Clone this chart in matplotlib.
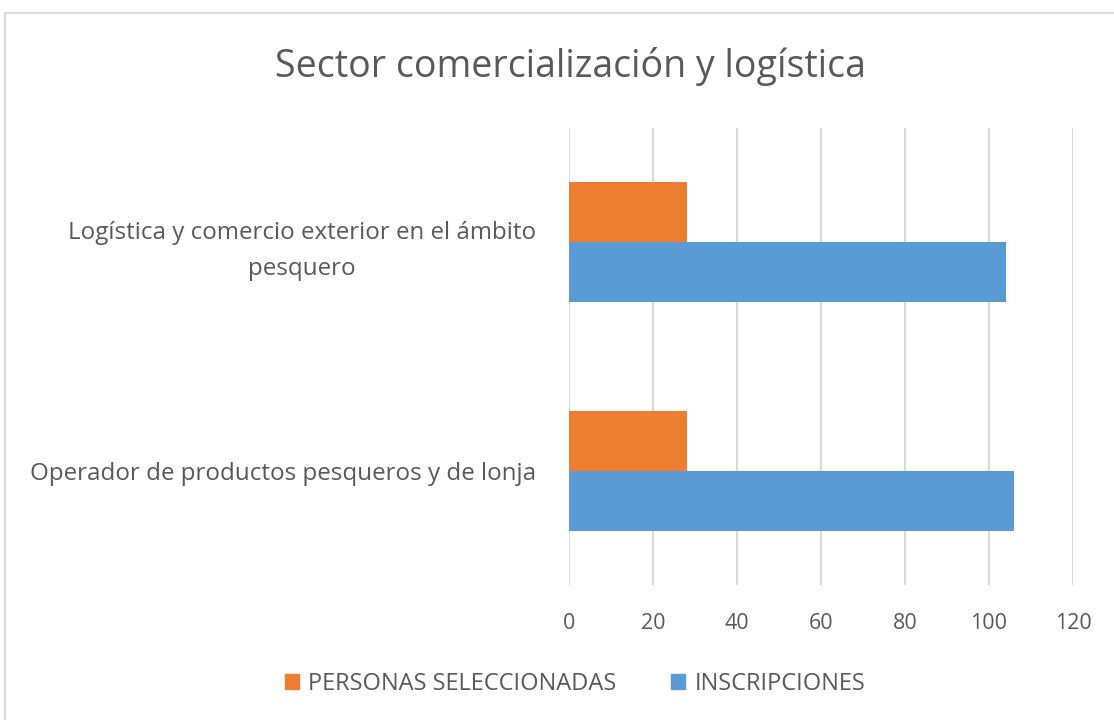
import matplotlib
matplotlib.use("Agg")
from matplotlib import pyplot as plt
from matplotlib.patches import Rectangle, Patch
import numpy as np

categorias = ["Operador de productos pesqueros y de lonja",
              "Logística y comercio exterior en el ámbito\npesquero"]
seleccionadas = [28, 28]
inscripciones = [106, 104]
ticks_x = [0, 20, 40, 60, 80, 100, 120]

naranja = "#ED7D31"
azul = "#5B9BD5"
gris_texto = "#595959"

plt.rcParams['font.family'] = ['Open Sans', 'DejaVu Sans']

fig = plt.figure(figsize=(11.14, 7.2), dpi=100)
# marco exterior del gráfico
fig.patches.append(Rectangle((5 / 1114, -0.1), 1.2, 1 - 13 / 720 + 0.1,
                             transform=fig.transFigure, fill=False,
                             edgecolor="#d9d9d9", linewidth=1.5))

ax = fig.add_axes([569 / 1114, 1 - 585 / 720, 504 / 1114, 457 / 720])
y = np.arange(len(categorias))
h = 0.2625
ax.barh(y + h / 2, seleccionadas, height=h, color=naranja, label="PERSONAS SELECCIONADAS")
ax.barh(y - h / 2, inscripciones, height=h, color=azul, label="INSCRIPCIONES")

ax.set_xlim(0, 120)
ax.set_ylim(-0.5, 1.5)
ax.set_xticks(ticks_x)
ax.set_yticks(y)
ax.set_yticklabels(categorias, multialignment="center", linespacing=1.65)
ax.grid(axis="x", color="#d9d9d9", linewidth=1.5)
ax.set_axisbelow(True)
for s in ax.spines.values():
    s.set_visible(False)
ax.tick_params(axis="both", length=0, labelcolor=gris_texto)
ax.tick_params(axis="x", labelsize=15.5, pad=20)
ax.tick_params(axis="y", labelsize=17.4, pad=24)

fig.text(570 / 1114, 1 - 66 / 720, "Sector comercialización y logística",
         ha="center", va="center", fontsize=27, color=gris_texto)

handles = [Patch(color=naranja), Patch(color=azul)]
fig.legend(handles, ["PERSONAS SELECCIONADAS", "INSCRIPCIONES"],
           loc="center", bbox_to_anchor=(575 / 1114, 1 - 684 / 720), ncol=2,
           frameon=False, fontsize=17, labelcolor=gris_texto,
           handlelength=0.6, handleheight=0.6, handletextpad=0.4, columnspacing=2.3)

fig.savefig("out.png", dpi=100)
